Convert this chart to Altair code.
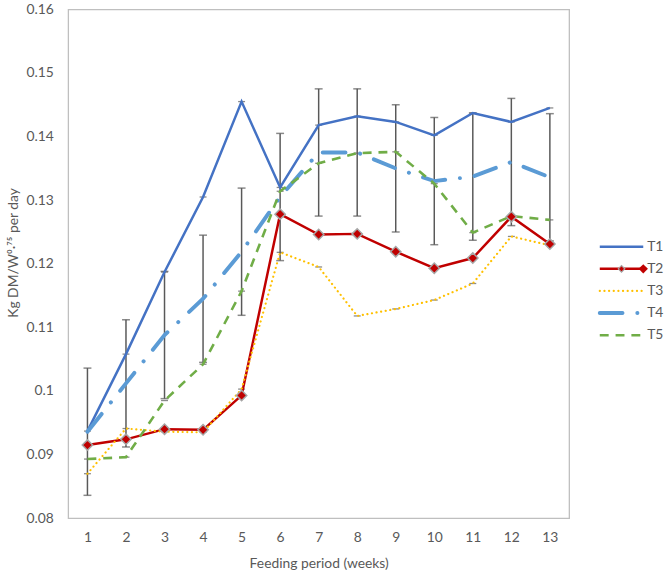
import altair as alt
import pandas as pd

# Weekly intake per treatment (kg DM / W^0.75 per day)
weeks = list(range(1, 14))
series_names = ["T1", "T2", "T3", "T4", "T5"]
t1 = [0.0937, 0.1058, 0.1187, 0.1305, 0.1455, 0.1320, 0.1418, 0.1432, 0.1423, 0.1402, 0.1437, 0.1423, 0.1445]
t2 = [0.0915, 0.0924, 0.0940, 0.0939, 0.0993, 0.1278, 0.1246, 0.1247, 0.1219, 0.1193, 0.1209, 0.1274, 0.1231]
t3 = [0.0870, 0.0941, 0.0936, 0.0935, 0.1003, 0.1218, 0.1195, 0.1118, 0.1129, 0.1143, 0.1169, 0.1243, 0.1229]
t4 = [0.0936, 0.1012, 0.1088, 0.1145, 0.1219, 0.1305, 0.1375, 0.1375, 0.1350, 0.1330, 0.1337, 0.1360, 0.1336]
t5 = [0.0893, 0.0896, 0.0985, 0.1042, 0.1157, 0.1314, 0.1358, 0.1374, 0.1376, 0.1326, 0.1249, 0.1275, 0.1269]
t4_err = [0.010, 0.010, 0.010, 0.010, 0.010, 0.010, 0.010, 0.010, 0.010, 0.010, 0.010, 0.010, 0.010]
y_ticks = [0.08, 0.09, 0.10, 0.11, 0.12, 0.13, 0.14, 0.15, 0.16]

FONT = "Lato"
TEXT = "#595959"
ERR = "#595959"

styles = {
    "T1": dict(color="#4472C4", strokeWidth=2.5, strokeCap="butt"),
    "T2": dict(color="#C00000", strokeWidth=2.5, strokeCap="butt"),
    "T3": dict(color="#FFC000", strokeWidth=2.2, strokeDash=[0.1, 4.6], strokeCap="round"),
    "T4": dict(color="#5B9BD5", strokeWidth=4, strokeDash=[23, 15, 0.1, 15], strokeCap="round"),
    "T5": dict(color="#70AD47", strokeWidth=2.6, strokeDash=[9, 7], strokeCap="butt"),
}

rows = []
for name, vals in zip(series_names, [t1, t2, t3, t4, t5]):
    for w, v in zip(weeks, vals):
        rows.append({"week": w, "series": name, "value": v})
df = pd.DataFrame(rows)

err_df = pd.DataFrame({"week": weeks, "value": t4, "err": t4_err})
err_df["lo"] = err_df["value"] - err_df["err"]
err_df["hi"] = err_df["value"] + err_df["err"]

x_scale = alt.Scale(domain=[0.5, 13.5], nice=False, zero=False)
y_scale = alt.Scale(domain=[0.08, 0.16], nice=False, zero=False)
x_axis = alt.Axis(values=weeks, title="Feeding period (weeks)", labelPadding=13,
                  titlePadding=12)
y_axis = alt.Axis(values=y_ticks, labelExpr="format(datum.value, '.2~f')",
                  title="Kg DM/W\u2070\u00b7\u2077\u2075 per day", labelPadding=15,
                  titlePadding=6, titleY=246)


def xenc():
    return alt.X("week:Q", scale=x_scale, axis=x_axis)


def yenc(field):
    return alt.Y(f"{field}:Q", scale=y_scale, axis=y_axis)


layers = []

# error bars on T4
layers.append(
    alt.Chart(err_df).mark_rule(color=ERR, strokeWidth=1.5)
    .encode(x=xenc(), y=yenc("lo"), y2="hi")
)
for f in ["lo", "hi"]:
    layers.append(
        alt.Chart(err_df).mark_tick(orient="horizontal", size=8, thickness=1.5, color=ERR)
        .encode(x=xenc(), y=yenc(f))
    )
# zero-width error caps of the other treatments
layers.append(
    alt.Chart(df).transform_filter(alt.datum.series != "T4")
    .mark_tick(orient="horizontal", size=7, thickness=1.3, color=ERR)
    .encode(x=xenc(), y=yenc("value"))
)

for name in series_names:
    layers.append(
        alt.Chart(df).transform_filter(alt.datum.series == name)
        .mark_line(**styles[name])
        .encode(x=xenc(), y=yenc("value"))
    )

layers.append(
    alt.Chart(df).transform_filter(alt.datum.series == "T2")
    .mark_point(shape="diamond", filled=True, fill="#C00000", stroke="#A6A6A6",
                strokeWidth=1.5, size=110, opacity=1)
    .encode(x=xenc(), y=yenc("value"))
)

main = alt.layer(*layers).properties(
    width=507, height=515,
    view=alt.ViewBackground(stroke="#BFBFBF", strokeWidth=1.3),
)

# legend panel
leg_df = pd.DataFrame({"series": series_names})
leg_y = alt.Y("series:N", scale=alt.Scale(domain=series_names, range=[229, 341], padding=0), axis=None)
leg_layers = []
for name in series_names:
    leg_layers.append(
        alt.Chart(leg_df).transform_filter(alt.datum.series == name)
        .mark_rule(**styles[name])
        .encode(y=leg_y, x=alt.value(29), x2=alt.value(73))
    )
leg_layers.append(
    alt.Chart(leg_df).transform_filter(alt.datum.series == "T2")
    .mark_point(shape="diamond", filled=True, fill="#C00000", stroke="#A6A6A6",
                strokeWidth=1.2, size=45, opacity=1)
    .encode(y=leg_y, x=alt.value(51))
)
leg_layers.append(
    alt.Chart(leg_df).transform_filter(alt.datum.series == "T2")
    .mark_point(shape="diamond", filled=True, fill="#C00000", size=90, opacity=1)
    .encode(y=leg_y, x=alt.value(73))
)
leg_layers.append(
    alt.Chart(leg_df).mark_text(align="left", baseline="middle", font=FONT, fontSize=14, color=TEXT)
    .encode(y=leg_y, x=alt.value(77), text="series:N")
)
legend = alt.layer(*leg_layers).properties(
    width=82, height=515,
    view=alt.ViewBackground(stroke="transparent"),
)

chart = alt.hconcat(main, legend, spacing=0).properties(
    padding={"left": 5, "top": -2, "right": 0, "bottom": 0},
    background="white",
).configure_axis(
    labelFont=FONT, labelFontSize=14, labelColor=TEXT,
    titleFont=FONT, titleFontSize=14, titleColor=TEXT, titleFontWeight="normal",
    ticks=False, tickSize=0, domain=False, grid=False,
)

chart.save("out.html", embed_options={"renderer": "svg", "actions": False})
